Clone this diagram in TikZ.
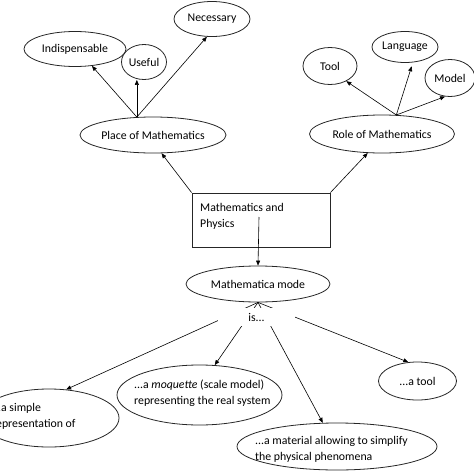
\documentclass[tikz,border=0pt]{standalone}
\usepackage{fontspec}
\setmainfont{Carlito}
\usetikzlibrary{shapes.geometric,arrows.meta}
\begin{document}
\begin{tikzpicture}[x=1pt,y=-1pt,
  font=\fontsize{11.8}{16}\selectfont,
  ell/.style={ellipse, draw=black!85, line width=0.8pt, inner sep=0pt},
  box/.style={rectangle, draw=black!85, line width=0.8pt, inner sep=0pt},
  arr/.style={line width=0.6pt, -{Triangle[length=5pt,width=4pt]}},
  txt/.style={inner sep=0pt, align=left}]
\useasboundingbox (0,0) rectangle (474,474);
\clip (0,0) rectangle (474,474);
% upper left group
\node[ell, minimum width=102pt, minimum height=35pt] (indis) at (75,49) {Indispensable};
\node[ell, minimum width=45pt, minimum height=35pt] (useful) at (144,62) {Useful};
\node[ell, minimum width=76pt, minimum height=35pt] (nec) at (212,19) {Necessary};
\node[ell, minimum width=146pt, minimum height=36pt] (place) at (153,135) {Place of Mathematics};
% upper right group
\node[ell, minimum width=54pt, minimum height=37pt] (tool) at (330,66) {Tool};
\node[ell, minimum width=66pt, minimum height=31pt] (lang) at (405,47) {Language};
\node[ell, minimum width=50pt, minimum height=37pt] (model) at (450,78) {Model};
\node[ell, minimum width=145pt, minimum height=38pt] (role) at (382,134) {Role of Mathematics};
% centre
\node[box, minimum width=138pt, minimum height=54pt] (mp) at (261,220) {};
\node[txt, anchor=west] (mptext) at (200,216) {Mathematics and\\Physics};
\node[ell, minimum width=144pt, minimum height=36pt] (mode) at (258,284) {Mathematica mode};
% bottom
\node[ell, minimum width=140pt, minimum height=58pt] (simp) at (49,418) {};
\node[txt, anchor=west] (simptext) at (-8,416) {...a simple\\representation of};
\node[ell, minimum width=165pt, minimum height=60pt] (moq) at (199.5,395) {};
\node[txt, anchor=west] (moqtext) at (134,393) {...a \textit{moquette} (scale model)\\representing the real system};
\node[ell, minimum width=78pt, minimum height=38pt] (tool2) at (417.5,381) {...a tool};
\node[ell, minimum width=200pt, minimum height=47pt] (mat) at (337,446.5) {};
\node[txt, anchor=west] (mattext) at (255,449) {...a material allowing to simplify\\the physical phenomena};
% connectors
\draw[arr] (place.132) -- (indis.315);
\draw[arr] (place.132) -- (place.132 |- useful.south);
\draw[arr] (place.132) -- (nec.254);
\draw[arr] (role.53) -- (tool.317);
\draw[arr, shorten >=4pt] (role.53) -- (lang.297);
\draw[arr] (role.53) -- (model.255);
\draw[arr] (mp.north west) -- (place.295);
\draw[arr] (mp.north east) -- (role.233);
\draw[arr] ([xshift=-2pt,yshift=3pt]mp.center) -- (mode.north);
\draw[arr] (mode.south) -- (simp.59);
\draw[arr] (mode.south) -- (moq.63);
\draw[arr] (mode.south) -- (mat.121);
\draw[arr] (mode.south) -- (tool2.116);
\node[fill=white, minimum width=77pt, minimum height=18pt, inner sep=0pt] (is) at (256.5,317) {is...};
\end{tikzpicture}
\end{document}
